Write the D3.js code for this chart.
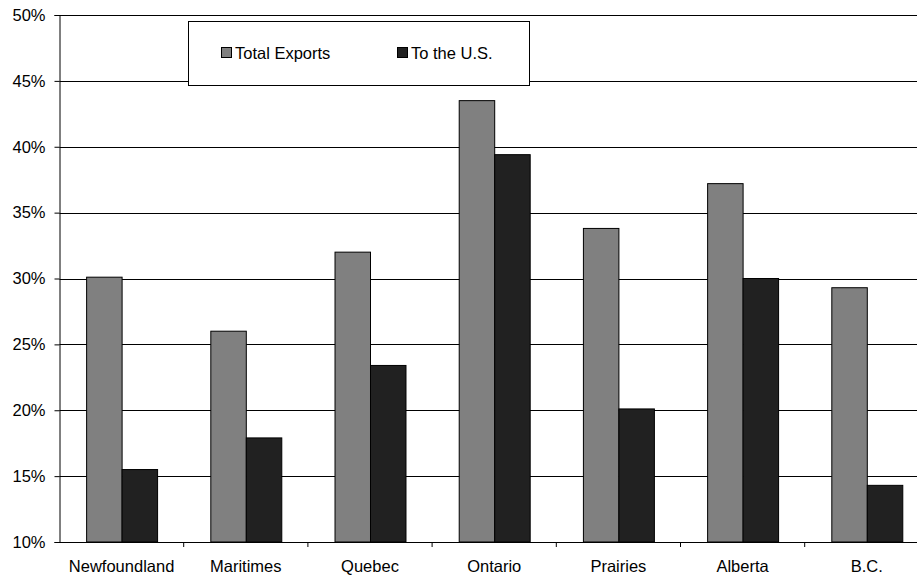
<!DOCTYPE html>
<html>
<head>
<meta charset="utf-8">
<script src="https://cdn.jsdelivr.net/npm/d3@7"></script>
<style>
  html, body { margin: 0; padding: 0; background: #fff; }
  svg { display: block; font-family: "Liberation Sans", Arial, sans-serif; }
</style>
</head>
<body>
<svg id="chart" width="917" height="575"></svg>
<script>
// Regional export shares, in percent
const regions = ["Newfoundland", "Maritimes", "Quebec", "Ontario", "Prairies", "Alberta", "B.C."];
const seriesNames = ["Total Exports", "To the U.S."];
const totalExports = [30.1, 26.0, 32.0, 43.5, 33.8, 37.2, 29.3];
const toUS = [15.5, 17.9, 23.4, 39.4, 20.1, 30.0, 14.3];
const yTicks = [10, 15, 20, 25, 30, 35, 40, 45, 50];
const seriesColors = ["#808080", "#212121"];

(function () {
  const svg = d3.select("#chart");
  const plotLeft = 59.5, plotTop = 15, plotBottom = 542;
  const step = 124.2;

  const x = d3.scaleBand().domain(regions).range([plotLeft, plotLeft + step * regions.length]).padding(0);
  const xs = d3.scaleBand().domain(seriesNames).range([0, x.bandwidth()]).paddingInner(0).paddingOuter(0.75);
  const y = d3.scaleLinear().domain([10, 50]).range([plotBottom, plotTop]);

  const fontSize = "16.5px";

  // horizontal gridlines
  svg.append("g").selectAll("line").data(yTicks.slice(1)).join("line")
    .attr("x1", plotLeft).attr("x2", x.range()[1])
    .attr("y1", d => Math.round(y(d)) + 0.5).attr("y2", d => Math.round(y(d)) + 0.5)
    .attr("stroke", "#000").attr("stroke-width", 1);

  // bars
  const rows = regions.map((r, i) => ({ region: r, values: [totalExports[i], toUS[i]] }));
  const groups = svg.append("g").selectAll("g").data(rows).join("g")
    .attr("transform", d => `translate(${x(d.region)},0)`);
  groups.selectAll("rect").data(d => d.values.map((v, j) => ({ name: seriesNames[j], v, j }))).join("rect")
    .attr("x", d => xs(d.name) + 0.5)
    .attr("width", xs.bandwidth())
    .attr("y", d => y(d.v))
    .attr("height", d => y(10) - y(d.v))
    .attr("fill", d => seriesColors[d.j])
    .attr("stroke", "#000").attr("stroke-width", 1);

  // y axis
  const yAxis = d3.axisLeft(y).tickValues(yTicks).tickFormat(d => d + "%").tickSize(5).tickPadding(9);
  const gy = svg.append("g").attr("transform", `translate(${plotLeft},0)`).call(yAxis);
  gy.selectAll(".tick line").attr("stroke", "#000");
  gy.select(".domain").attr("stroke", "#000");
  gy.selectAll("text").attr("font-size", fontSize).attr("font-family", "Liberation Sans, Arial, sans-serif").attr("fill", "#000");

  // x axis: ticks at category boundaries
  const gx = svg.append("g").attr("transform", `translate(0,${plotBottom})`);
  gx.append("line").attr("x1", plotLeft).attr("x2", x.range()[1]).attr("y1", 0.5).attr("y2", 0.5).attr("stroke", "#000");
  gx.selectAll("line.tk").data(regions).join("line").attr("class", "tk")
    .attr("x1", d => x(d) + x.bandwidth()).attr("x2", d => x(d) + x.bandwidth())
    .attr("y1", 0).attr("y2", 5).attr("stroke", "#000");
  gx.selectAll("text").data(regions).join("text")
    .attr("x", d => x(d) + x.bandwidth() / 2)
    .attr("y", 30)
    .attr("text-anchor", "middle")
    .attr("font-size", fontSize)
    .attr("fill", "#000")
    .text(d => d);

  // legend
  const lg = svg.append("g");
  lg.append("rect").attr("x", 188.5).attr("y", 21.5).attr("width", 341).attr("height", 64)
    .attr("fill", "#fff").attr("stroke", "#000");
  const legendX = [221, 397];
  seriesNames.forEach((name, i) => {
    lg.append("rect").attr("x", legendX[i] + 0.5).attr("y", 47.5).attr("width", 10).attr("height", 10)
      .attr("fill", seriesColors[i]).attr("stroke", "#000");
    lg.append("text").attr("x", legendX[i] + 14).attr("y", 58.5)
      .attr("font-size", fontSize).attr("fill", "#000").text(name);
  });
})();
</script>
</body>
</html>
